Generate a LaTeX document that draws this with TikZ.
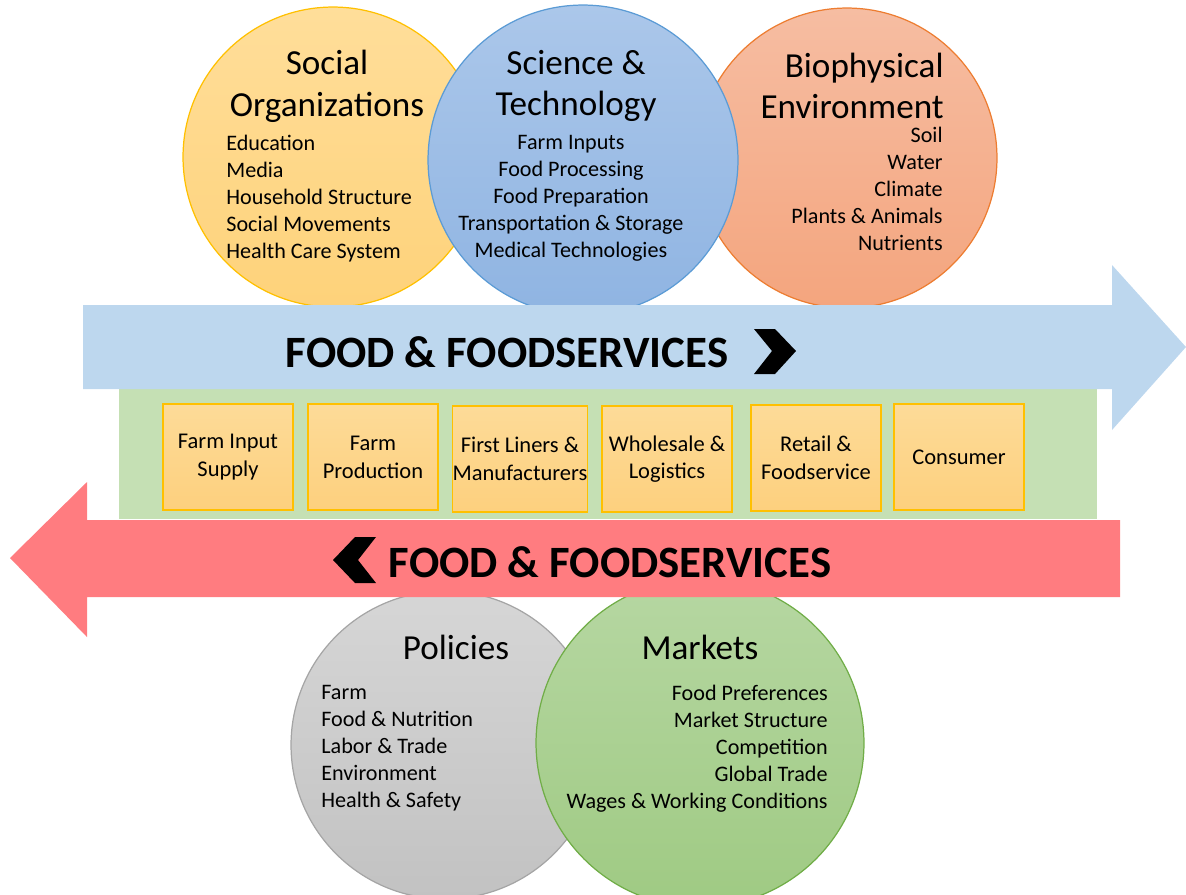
\documentclass[tikz,border=0pt]{standalone}
\usepackage{fontspec}
\setmainfont{Carlito}
\definecolor{socTop}{HTML}{FFDE9A}
\definecolor{socBot}{HTML}{FED27A}
\definecolor{sciTop}{HTML}{ABC7EA}
\definecolor{sciBot}{HTML}{8FB4E2}
\definecolor{bioTop}{HTML}{F6BDA2}
\definecolor{bioBot}{HTML}{F4A57E}
\definecolor{polTop}{HTML}{D6D6D6}
\definecolor{polBot}{HTML}{C2C2C2}
\definecolor{mktTop}{HTML}{B6D7A2}
\definecolor{mktBot}{HTML}{9FCA83}
\definecolor{flowBlue}{HTML}{BDD7EE}
\definecolor{flowRed}{HTML}{FF7C80}
\definecolor{chainGreen}{HTML}{C5E0B4}
\definecolor{boxTop}{HTML}{FDDB98}
\definecolor{boxBot}{HTML}{FDD07E}
\definecolor{gold}{HTML}{FFC000}

\tikzstyle{cS}=[circle,inner sep = 0pt,line width=0.7pt]
\tikzstyle{tS}=[inner sep = 0pt,font=\fontsize{20}{23.8}\selectfont]
\tikzstyle{iS}=[inner sep = 0pt,font=\fontsize{12.6}{15.4}\selectfont]
\tikzstyle{bS}=[rectangle,draw=gold,line width=0.7pt,top color=boxTop,bottom color=boxBot,minimum width = 2.6cm,minimum height = 2.12cm,inner sep = 0pt,align=center,font=\fontsize{12.8}{15.8}\selectfont]
\tikzstyle{fS}=[inner sep = 0pt,font=\fontsize{25.5}{28}\selectfont\bfseries]

\begin{document}
\begin{tikzpicture}[x=0.02cm,y=-0.02cm]
    \useasboundingbox (0,0) rectangle (1186,894);
    % top circles
    \draw (333,157) node[cS,minimum size = 6cm,draw=gold,top color=socTop,bottom color=socBot] (social) {};
    \draw (847,158) node[cS,minimum size = 6cm,draw={rgb,255:red,237;green,125;blue,49},top color=bioTop,bottom color=bioBot] (bio) {};
    \draw (583,160) node[cS,minimum size = 6.2cm,draw={rgb,255:red,91;green,155;blue,213},top color=sciTop,bottom color=sciBot] (science) {};
    \draw (327,86) node[tS,align=center] (socialT) {Social\\Organizations};
    \draw (576,86) node[tS,align=center] (scienceT) {Science \&\\Technology};
    \draw (944,86) node[tS,align=right,anchor=east] (bioT) {Biophysical\\Environment};
    \draw (226,135) node[iS,align=left,anchor=north west] (socialI) {Education\\Media\\Household Structure\\Social Movements\\Health Care System};
    \draw (571,135) node[iS,align=center,anchor=north] (scienceI) {Farm Inputs\\Food Processing\\Food Preparation\\Transportation \& Storage\\Medical Technologies};
    \draw (943,127) node[iS,align=right,anchor=north east] (bioI) {Soil\\Water\\Climate\\Plants \& Animals\\Nutrients};

    % bottom circles
    \draw (445,745) node[cS,minimum size = 6.16cm,draw={rgb,255:red,165;green,165;blue,165},top color=polTop,bottom color=polBot] (policies) {};
    \draw (700,743) node[cS,minimum size = 6.56cm,draw={rgb,255:red,112;green,173;blue,71},top color=mktTop,bottom color=mktBot] (markets) {};
    \draw (456,647) node[tS] (policiesT) {Policies};
    \draw (700,647) node[tS] (marketsT) {Markets};
    \draw (321,685) node[iS,align=left,anchor=north west] (policiesI) {Farm\\Food \& Nutrition\\Labor \& Trade\\Environment\\Health \& Safety};
    \draw (828,685) node[iS,align=right,anchor=north east] (marketsI) {Food Preferences\\Market Structure\\Competition\\Global Trade\\Wages \& Working Conditions};

    % value chain
    \fill[chainGreen] (119,389) rectangle (1097,519);
    \fill[flowBlue] (83,305) -- (1112,305) -- (1112,265) -- (1186,347) -- (1112,430) -- (1112,389) -- (83,389) -- cycle;
    \fill[flowRed] (1120,520) -- (87,520) -- (87,482) -- (10,558) -- (87,637) -- (87,597) -- (1120,597) -- cycle;
    \fill (754,329) -- (775,329) -- (796,351) -- (775,374) -- (754,374) -- (772,351) -- cycle;
    \fill (376,537) -- (355,537) -- (333,560) -- (355,583) -- (376,583) -- (358,560) -- cycle;
    \draw (507,352) node[fS] (fwd) {FOOD \& FOODSERVICES};
    \draw (610,562) node[fS] (back) {FOOD \& FOODSERVICES};

    \draw (228,457) node[bS] (input) {Farm Input\\Supply};
    \draw (373,457) node[bS] (prod) {Farm\\Production};
    \draw (520,459) node[bS] (manuf) {First Liners \&\\Manufacturers};
    \draw (667,459) node[bS] (whole) {Wholesale \&\\Logistics};
    \draw (816,458) node[bS] (retail) {Retail \&\\Foodservice};
    \draw (959,457) node[bS] (cons) {Consumer};
\end{tikzpicture}
\end{document}
